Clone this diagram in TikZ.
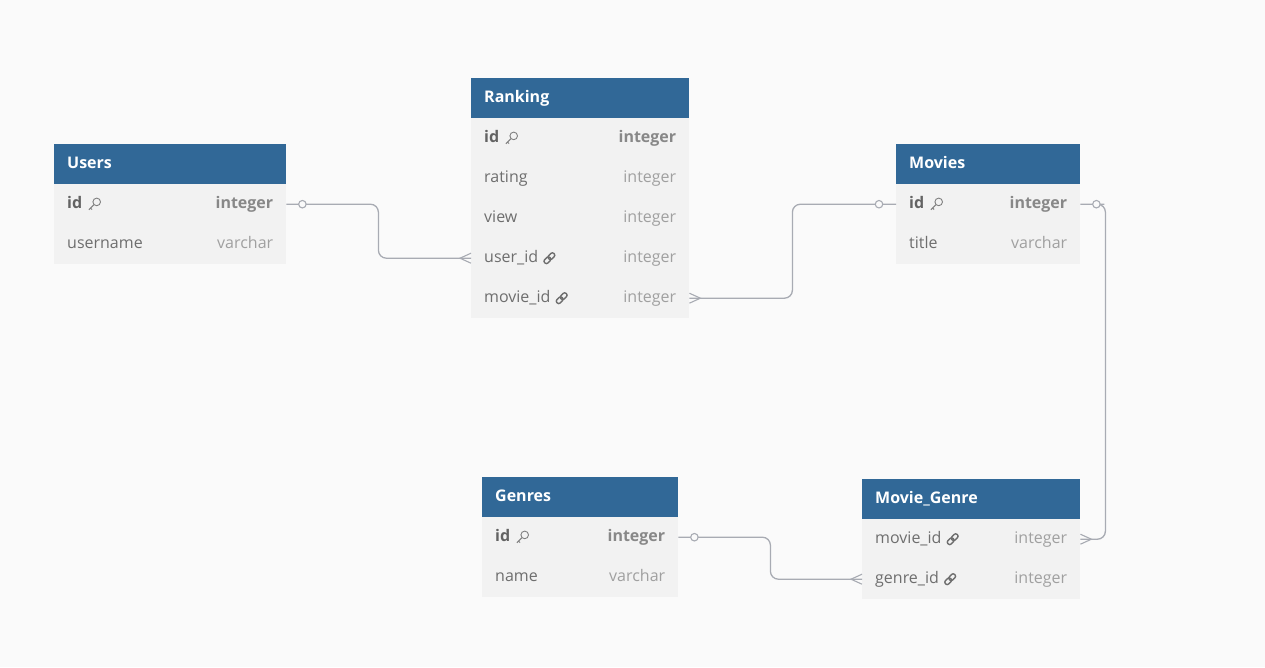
\documentclass[tikz,border=0pt]{standalone}
\usepackage{fontspec}
\setmainfont{Open Sans}
\usetikzlibrary{positioning,calc}
\definecolor{hdrblue}{HTML}{316897}
\definecolor{rowgray}{HTML}{F2F2F2}
\definecolor{bggray}{HTML}{FAFAFA}
\definecolor{linegray}{HTML}{A8ABB3}
\definecolor{namegray}{HTML}{6E6E6E}
\definecolor{typegray}{HTML}{A0A0A0}

\begin{document}
\begin{tikzpicture}[x=1pt,y=-1pt]
\tikzset{
  tblhead/.style={rectangle,fill=hdrblue,anchor=north west,minimum height=40pt,inner sep=0pt},
  tblrow/.style={rectangle,fill=rowgray,anchor=north west,minimum height=40pt,inner sep=0pt},
  headtext/.style={font=\fontsize{16}{18}\selectfont\bfseries,text=white,inner sep=0pt,text height=11pt,text depth=3pt},
  fieldname/.style={font=\fontsize{16}{18}\selectfont,text=namegray,inner sep=0pt,text height=11pt,text depth=3pt},
  fieldtype/.style={font=\fontsize{16}{18}\selectfont,text=typegray,inner sep=0pt,text height=11pt,text depth=3pt},
  pkname/.style={fieldname,font=\fontsize{16}{18}\selectfont\bfseries,text=namegray!90!black},
  pktype/.style={fieldtype,font=\fontsize{16}{18}\selectfont\bfseries,text=typegray!85!black},
  rel/.style={draw=linegray,line width=1.3pt,rounded corners=8pt},
  ocirc/.style={circle,draw=linegray,fill=bggray,line width=1.1pt,minimum size=7.5pt,inner sep=0pt},
  keyicon/.pic={
    \draw[typegray!80!black,line width=0.9pt] (2.3,-2.3) circle (3.8);
    \draw[typegray!80!black,line width=0.9pt] (-0.4,0.4) -- (-5.5,5.5) (-3.8,3.8) -- (-2.3,5.3);
  },
  linkicon/.pic={
    \draw[namegray,line width=1.4pt,rounded corners=2pt,rotate=45] (-6.5,-2.3) rectangle (0.8,2.3);
    \draw[namegray,line width=1.4pt,rounded corners=2pt,rotate=45] (-0.8,-2.3) rectangle (6.5,2.3);
  },
  crowfoot/.pic={
    \draw[linegray,line width=1.1pt] (0,-5) -- (-11,0) -- (0,5);
  }
}
\fill[bggray,use as bounding box] (0,0) rectangle (1265,667);

% Users
\node[tblhead,minimum width=232pt] (users) at (54,144) {};
\node[tblrow,minimum width=232pt] (users_id) at (54,184) {};
\node[tblrow,minimum width=232pt] (users_name) at (54,224) {};
\node[headtext,right=13pt of users.west] (users_t) {Users};
\node[pkname,right=13pt of users_id.west] (users_id_n) {id};
\node[pktype,left=13pt of users_id.east] (users_id_t) {integer};
\node[fieldname,right=13pt of users_name.west] (users_name_n) {username};
\node[fieldtype,left=13pt of users_name.east] (users_name_t) {varchar};
\pic at ([xshift=12pt]users_id_n.east) {keyicon};

% Ranking
\node[tblhead,minimum width=218pt] (ranking) at (471,78) {};
\node[tblrow,minimum width=218pt,minimum height=200pt] (ranking_body) at (471,118) {};
\node[tblrow,fill=none,minimum width=218pt] (ranking_id) at (471,118) {};
\node[tblrow,fill=none,minimum width=218pt] (ranking_rt) at (471,158) {};
\node[tblrow,fill=none,minimum width=218pt] (ranking_vw) at (471,198) {};
\node[tblrow,fill=none,minimum width=218pt] (ranking_uid) at (471,238) {};
\node[tblrow,fill=none,minimum width=218pt] (ranking_mid) at (471,278) {};
\node[headtext,right=13pt of ranking.west] (ranking_t) {Ranking};
\node[pkname,right=13pt of ranking_id.west] (ranking_id_n) {id};
\node[pktype,left=13pt of ranking_id.east] (ranking_id_t) {integer};
\node[fieldname,right=13pt of ranking_rt.west] (ranking_rt_n) {rating};
\node[fieldtype,left=13pt of ranking_rt.east] (ranking_rt_t) {integer};
\node[fieldname,right=13pt of ranking_vw.west] (ranking_vw_n) {view};
\node[fieldtype,left=13pt of ranking_vw.east] (ranking_vw_t) {integer};
\node[fieldname,right=13pt of ranking_uid.west] (ranking_uid_n) {user\_id};
\node[fieldtype,left=13pt of ranking_uid.east] (ranking_uid_t) {integer};
\node[fieldname,right=13pt of ranking_mid.west] (ranking_mid_n) {movie\_id};
\node[fieldtype,left=13pt of ranking_mid.east] (ranking_mid_t) {integer};
\pic at ([xshift=12pt]ranking_id_n.east) {keyicon};
\pic at ([xshift=11pt]ranking_uid_n.east) {linkicon};
\pic at ([xshift=11pt]ranking_mid_n.east) {linkicon};

% Movies
\node[tblhead,minimum width=184pt] (movies) at (896,144) {};
\node[tblrow,minimum width=184pt] (movies_id) at (896,184) {};
\node[tblrow,minimum width=184pt] (movies_ttl) at (896,224) {};
\node[headtext,right=13pt of movies.west] (movies_t) {Movies};
\node[pkname,right=13pt of movies_id.west] (movies_id_n) {id};
\node[pktype,left=13pt of movies_id.east] (movies_id_t) {integer};
\node[fieldname,right=13pt of movies_ttl.west] (movies_ttl_n) {title};
\node[fieldtype,left=13pt of movies_ttl.east] (movies_ttl_t) {varchar};
\pic at ([xshift=12pt]movies_id_n.east) {keyicon};

% Genres
\node[tblhead,minimum width=196pt] (genres) at (482,477) {};
\node[tblrow,minimum width=196pt] (genres_id) at (482,517) {};
\node[tblrow,minimum width=196pt] (genres_nm) at (482,557) {};
\node[headtext,right=13pt of genres.west] (genres_t) {Genres};
\node[pkname,right=13pt of genres_id.west] (genres_id_n) {id};
\node[pktype,left=13pt of genres_id.east] (genres_id_t) {integer};
\node[fieldname,right=13pt of genres_nm.west] (genres_nm_n) {name};
\node[fieldtype,left=13pt of genres_nm.east] (genres_nm_t) {varchar};
\pic at ([xshift=12pt]genres_id_n.east) {keyicon};

% Movie_Genre
\node[tblhead,minimum width=218pt] (mg) at (862,479) {};
\node[tblrow,minimum width=218pt] (mg_mid) at (862,519) {};
\node[tblrow,minimum width=218pt] (mg_gid) at (862,559) {};
\node[headtext,right=13pt of mg.west] (mg_t) {Movie\_Genre};
\node[fieldname,right=13pt of mg_mid.west] (mg_mid_n) {movie\_id};
\node[fieldtype,left=13pt of mg_mid.east] (mg_mid_t) {integer};
\node[fieldname,right=13pt of mg_gid.west] (mg_gid_n) {genre\_id};
\node[fieldtype,left=13pt of mg_gid.east] (mg_gid_t) {integer};
\pic at ([xshift=11pt]mg_mid_n.east) {linkicon};
\pic at ([xshift=11pt]mg_gid_n.east) {linkicon};

% relations
\draw[rel] (users_id.east) -- ++(16,0) node[ocirc] (users_opt) {} -- ++(76,0) |- (ranking_uid.west);
\draw[rel] (ranking_mid.east) -- ++(103,0) |- ([xshift=-17pt]movies_id.west) node[ocirc] (movies_opt) {} -- (movies_id.west);
\draw[rel] (movies_id.east) -- ++(16,0) node[ocirc] (movies_opt2) {} -- ++(9,0) |- (mg_mid.east);
\draw[rel] (genres_id.east) -- ++(16,0) node[ocirc] (genres_opt) {} -- ++(76,0) |- (mg_gid.west);
\pic at (ranking_uid.west) {crowfoot};
\pic[rotate=180] at (ranking_mid.east) {crowfoot};
\pic[rotate=180] at (mg_mid.east) {crowfoot};
\pic at (mg_gid.west) {crowfoot};
\end{tikzpicture}
\end{document}
